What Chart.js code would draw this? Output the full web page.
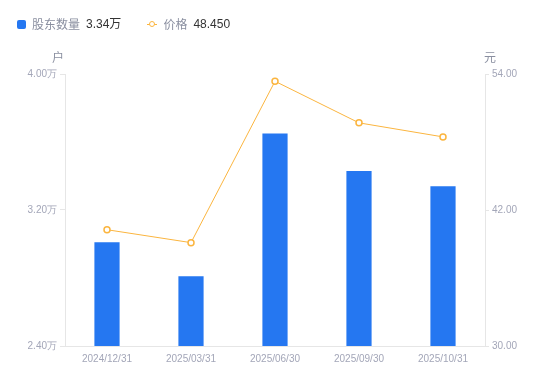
<!DOCTYPE html>
<html>
<head>
<meta charset="utf-8">
<script src="https://cdn.jsdelivr.net/npm/chart.js@4/dist/chart.umd.min.js"></script>
<style>
  body { margin: 0; background: #fff; font-family: "Liberation Sans", "Noto Sans CJK SC", sans-serif; }
  #wrap { position: relative; width: 550px; height: 381px; }
  #legend { position: absolute; left: 17px; top: 16px; font-size: 12px; line-height: 16px; display: flex; align-items: center; }
  .item { display: flex; align-items: center; margin-right: 26px; }
  .sq { width: 9px; height: 9px; border-radius: 2px; background: #2577f1; margin-right: 6px; }
  .ic { position: relative; width: 10px; height: 9px; margin-right: 6px; }
  .ic .ln { position: absolute; left: 0; top: 4px; width: 10px; height: 1px; background: #fbb53f; }
  .ic .dot { position: absolute; left: 2px; top: 1.5px; width: 4px; height: 4px; border: 1.5px solid #fbb53f; border-radius: 50%; background: #fff; }
  .name { color: #8a8fa0; margin-right: 6px; font-family: "Noto Sans CJK SC", sans-serif; }
  .val { color: #333; }
</style>
</head>
<body>
<div id="wrap">
  <div id="legend">
    <div class="item"><div class="sq"></div><span class="name">股东数量</span><span class="val">3.34万</span></div>
    <div class="item"><div class="ic"><div class="ln"></div><div class="dot"></div></div><span class="name">价格</span><span class="val">48.450</span></div>
  </div>
  <canvas id="chart" width="550" height="381"></canvas>
</div>
<script>
var dates = ['2024/12/31', '2025/03/31', '2025/06/30', '2025/09/30', '2025/10/31'];
var holders = [3.01, 2.81, 3.65, 3.43, 3.34];   // 万户
var prices = [40.26, 39.12, 53.36, 49.69, 48.45]; // 元
var holderTicks = [2.4, 3.2, 4.0];
var priceTicks = [30, 42, 54];

var tickColor = '#a3a6b8';
var lineColor = '#e6e6e6';

var axisTitles = {
    id: 'axisTitles',
    afterDraw: function(chart) {
        var ctx = chart.ctx;
        ctx.save();
        ctx.font = '12px "Noto Sans CJK SC", sans-serif';
        ctx.fillStyle = '#8a8fa0';
        ctx.textAlign = 'center';
        ctx.textBaseline = 'middle';
        ctx.fillText('户', chart.chartArea.left - 7, 57);
        ctx.fillText('元', chart.chartArea.right + 5, 57);
        ctx.restore();
    }
};

new Chart(document.getElementById('chart'), {
    data: {
        labels: dates,
        datasets: [{
            type: 'line',
            label: '价格',
            data: prices,
            yAxisID: 'y1',
            borderColor: '#fbb53f',
            borderWidth: 1,
            tension: 0,
            pointRadius: 3,
            pointBorderWidth: 1.5,
            pointBackgroundColor: '#fff',
            pointBorderColor: '#fbb53f',
            order: 0
        }, {
            type: 'bar',
            label: '股东数量',
            data: holders,
            yAxisID: 'y',
            backgroundColor: '#2577f1',
            barPercentage: 0.3,
            categoryPercentage: 1,
            order: 1
        }]
    },
    options: {
        responsive: false,
        animation: false,
        layout: { padding: { top: 74, left: 0, right: 0, bottom: 0 } },
        plugins: { legend: { display: false }, tooltip: { enabled: false } },
        scales: {
            x: {
                grid: { display: false, drawTicks: false },
                border: { display: true, color: lineColor },
                ticks: { color: tickColor, font: { size: 10 }, padding: 7, maxRotation: 0 },
                afterFit: function(s) { s.height = 35; }
            },
            y: {
                position: 'left',
                min: holderTicks[0],
                max: holderTicks[holderTicks.length - 1],
                afterBuildTicks: function(s) { s.ticks = holderTicks.map(function(v) { return { value: v }; }); },
                ticks: { color: tickColor, font: { size: 10 }, padding: 3,
                    callback: function(v) { return v.toFixed(2) + '万'; } },
                grid: { drawOnChartArea: false, tickLength: 5, color: lineColor },
                border: { color: lineColor },
                afterFit: function(s) { s.width = 65; }
            },
            y1: {
                position: 'right',
                min: priceTicks[0],
                max: priceTicks[priceTicks.length - 1],
                afterBuildTicks: function(s) { s.ticks = priceTicks.map(function(v) { return { value: v }; }); },
                ticks: { color: tickColor, font: { size: 10 }, padding: 3,
                    callback: function(v) { return v.toFixed(2); } },
                grid: { drawOnChartArea: false, tickLength: 4, color: lineColor },
                border: { color: lineColor },
                afterFit: function(s) { s.width = 65; }
            }
        }
    },
    plugins: [axisTitles]
});
</script>
</body>
</html>
